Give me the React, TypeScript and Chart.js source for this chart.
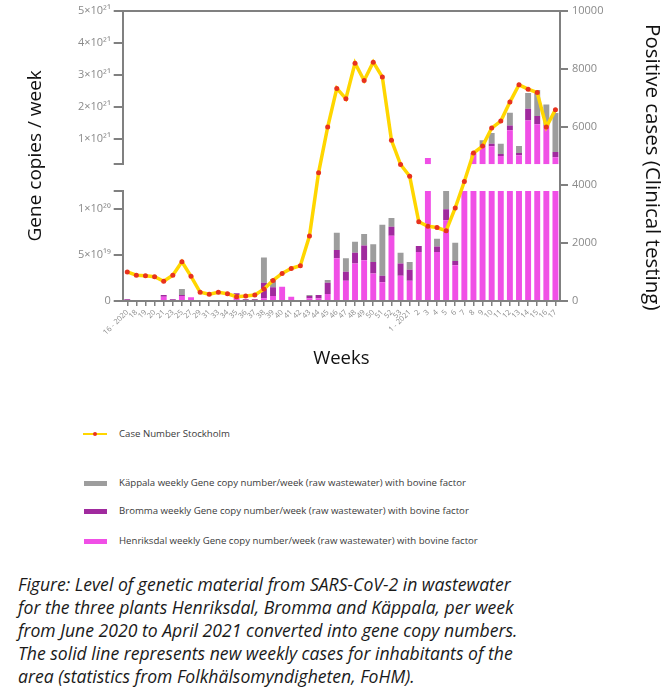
import React, { useEffect, useRef } from 'react';
import { Chart, registerables } from 'chart.js';

Chart.register(...registerables);

// Week labels (calendar weeks, June 2020 – April 2021)
const WEEKS = ['16 - 2020', '18', '19', '20', '21', '23', '25', '27', '29', '31', '33', '34', '35', '36', '37', '38', '39', '40', '41', '42', '43', '44', '45', '46', '47', '48', '49', '50', '51', '52', '53', '1 - 2021', '2', '3', '4', '5', '6', '7', '8', '9', '10', '11', '12', '13', '14', '15', '16', '17'];

// Gene copies per week, in units of 1e19
const HENRIKSDAL = [0, 0, 0, 0, 0.45, 0, 0.55, 0.4, 0, 0, 0, 0, 0.55, 0, 0, 0.3, 0.55, 1.55, 0.45, 0, 0.3, 0.3, 0.75, 4.65, 2.2, 4.1, 4.45, 3.0, 2.05, 7.1, 2.75, 2.2, 5.35, 40, 5.35, 8.8, 3.9, 15, 55, 75, 76, 46, 126, 48, 157, 145, 140, 42];
const BROMMA = [0.2, 0, 0, 0, 0.2, 0.2, 0.1, 0, 0, 0, 0, 0, 0.3, 0.2, 0.2, 1.7, 0.95, 0, 0, 0, 0.25, 0.35, 1.25, 0.9, 1.0, 1.15, 1.6, 1.25, 0.7, 1.0, 1.35, 1.2, 0.65, 0, 0.6, 1.2, 0.45, 0, 0, 3, 8.5, 6, 15.5, 7, 36.5, 26, 3, 16.5];
const KAPPALA = [0, 0, 0, 0, 0, 0, 0.65, 0, 0, 0, 0, 0, 0, 0, 0, 2.75, 0.9, 0, 0, 0, 0.1, 0, 0.3, 1.9, 1.45, 1.2, 1.25, 1.95, 5.55, 0.95, 1.15, 0.85, 0, 0, 0.85, 4, 2.0, 0, 0, 17, 33, 32.5, 39.5, 22, 49.5, 81, 64, 121.5];

// Weekly positive cases, Stockholm
const CASES = [1000, 890, 870, 835, 680, 890, 1350, 850, 300, 230, 300, 250, 150, 170, 205, 410, 710, 950, 1120, 1215, 2235, 4420, 5990, 7320, 6965, 8190, 7595, 8225, 7710, 5535, 4700, 4295, 2725, 2575, 2530, 2415, 3205, 4115, 5095, 5335, 5955, 6195, 6850, 7445, 7295, 7180, 5990, 6590];

// Broken axis ranges (units of 1e19)
const LOW_MAX = 12;
const HIGH_MIN = 20;
const HIGH_MAX = 500;
const LOW_TICK_LABELS: Record<number, string> = { 0: '0', 5: '5×10¹⁹', 10: '1×10²⁰' };
const HIGH_TICK_LABELS: Record<number, string> = { 100: '1×10²¹', 200: '2×10²¹', 300: '3×10²¹', 400: '4×10²¹', 500: '5×10²¹' };

const SERIES = [HENRIKSDAL, BROMMA, KAPPALA];
const COLORS = ['#F04FE6', '#A02A9E', '#9D9D9D'];
const NAMES = ['Henriksdal', 'Bromma', 'Käppala'];

function cumStart(k: number, i: number) {
  let s = 0;
  for (let j = 0; j < k; j++) s += SERIES[j][i];
  return s;
}
function lowerBars(k: number) {
  return WEEKS.map((_, i) => {
    const s0 = cumStart(k, i);
    const s = Math.min(s0, LOW_MAX);
    const e = Math.min(s0 + SERIES[k][i], LOW_MAX);
    return e > s ? [s, e] : null;
  });
}
function upperBars(k: number) {
  return WEEKS.map((_, i) => {
    const s0 = cumStart(k, i);
    const s = Math.max(s0, HIGH_MIN);
    const e = Math.max(s0 + SERIES[k][i], HIGH_MIN);
    return e > s ? [s, e] : null;
  });
}

const AXIS = '#808080';
const TICK_TXT = '#8a8a8a';
const FONT = "'Open Sans', 'Noto Sans', sans-serif";

export default function App() {
  const ref = useRef<HTMLCanvasElement>(null);

  useEffect(() => {
    const barDs: any[] = [];
    [0, 1, 2].forEach((k) => {
      barDs.push({ type: 'bar', label: NAMES[k] + ' low', data: lowerBars(k), backgroundColor: COLORS[k], yAxisID: 'yL', grouped: false, barPercentage: 0.65, categoryPercentage: 1, order: 2 });
      barDs.push({ type: 'bar', label: NAMES[k] + ' high', data: upperBars(k), backgroundColor: COLORS[k], yAxisID: 'yU', grouped: false, barPercentage: 0.65, categoryPercentage: 1, order: 2 });
    });
    const chart = new Chart(ref.current as HTMLCanvasElement, {
      type: 'bar',
      data: {
        labels: WEEKS,
        datasets: [
          { type: 'line', label: 'Case Number Stockholm', data: CASES, yAxisID: 'yR', borderColor: '#FFD600', borderWidth: 3.5, pointRadius: 2.5, pointBackgroundColor: '#E8321E', pointBorderWidth: 0, tension: 0, order: 0 } as any,
          ...barDs,
        ],
      },
      options: {
        responsive: false,
        animation: false,
        layout: { padding: { left: 20, right: 2, top: 10, bottom: 0 } },
        plugins: { legend: { display: false }, tooltip: { enabled: false } },
        scales: {
          x: {
            offset: true,
            grid: { display: true, drawOnChartArea: false, offset: false, tickLength: 5, color: AXIS, lineWidth: 1.5 },
            border: { color: AXIS, width: 2 },
            ticks: { autoSkip: false, maxRotation: 45, minRotation: 45, padding: 2, color: TICK_TXT, font: { family: FONT, size: 7.5 } },
            title: { display: true, text: 'Weeks', color: '#111', font: { family: FONT, size: 18.5 }, padding: { top: 0, bottom: 10 } },
            afterFit: (s: any) => { s.height = 79; },
          },
          yTitle: {
            position: 'left', weight: 10, display: true,
            grid: { display: false }, border: { display: false }, ticks: { display: false },
            title: { display: true, text: 'Gene copies / week', color: '#111', font: { family: FONT, size: 19 } },
            afterFit: (s: any) => { s.width = 40; },
          },
          yU: {
            position: 'left', stack: 'left', stackWeight: 154, weight: 3,
            min: HIGH_MIN, max: HIGH_MAX,
            ticks: { stepSize: 100, color: TICK_TXT, padding: 3, font: { family: FONT, size: 11 }, callback: (v: any) => HIGH_TICK_LABELS[v] ?? '' },
            grid: { color: (c: any) => (c.tick && c.tick.value === HIGH_MAX ? AXIS : 'rgba(0,0,0,0)'), tickColor: AXIS, tickLength: 9, lineWidth: 2, tickWidth: 2 },
            border: { color: AXIS, width: 2 },
            afterFit: (s: any) => { s.width = 62.7; },
          },
          yGap: {
            position: 'left', stack: 'left', stackWeight: 26.7, weight: 2, display: true,
            grid: { display: false }, border: { display: false }, ticks: { display: false },
            afterFit: (s: any) => { s.width = 62.7; },
          },
          yL: {
            position: 'left', stack: 'left', stackWeight: 110.3, weight: 1,
            min: 0, max: LOW_MAX,
            ticks: { stepSize: 5, color: TICK_TXT, padding: 3, font: { family: FONT, size: 11 }, callback: (v: any) => LOW_TICK_LABELS[v] ?? '' },
            grid: { drawOnChartArea: false, color: AXIS, tickLength: 9, lineWidth: 2 },
            border: { color: AXIS, width: 2 },
            afterFit: (s: any) => { s.width = 62.7; },
          },
          yR: {
            position: 'right', weight: 0, min: 0, max: 10000,
            ticks: { stepSize: 2000, color: TICK_TXT, padding: 4, font: { family: FONT, size: 11 }, callback: (v: any) => String(v) },
            grid: { drawOnChartArea: false, color: AXIS, tickLength: 8, lineWidth: 2 },
            border: { color: AXIS, width: 2 },
            afterFit: (s: any) => { s.width = 72; },
          },
          yRGap: {
            position: 'right', stack: 'right', stackWeight: 0.079, weight: 1, display: true,
            grid: { display: false }, border: { display: false }, ticks: { display: false },
            afterFit: (s: any) => { s.width = 36; },
          },
          yRTitle: {
            position: 'right', stack: 'right', stackWeight: 0.921, weight: 2, display: true,
            grid: { display: false }, border: { display: false }, ticks: { display: false },
            title: { display: true, text: 'Positive cases (Clinical testing)', color: '#111', font: { family: FONT, size: 20.5 } },
            afterFit: (s: any) => { s.width = 36; },
          },
        } as any,
      },
    });
    return () => chart.destroy();
  }, []);

  const legendText: React.CSSProperties = { position: 'absolute', left: 119, fontFamily: FONT, fontSize: 9.65, lineHeight: '14px', color: '#3a3a3a', whiteSpace: 'nowrap' };
  const swatch = (color: string, cy: number): React.CSSProperties => ({ position: 'absolute', left: 84, top: cy - 2.5, width: 23, height: 5, background: color });

  return (
    <div style={{ position: 'absolute', left: 0, top: 0, width: 670, height: 700, background: '#fff', overflow: 'hidden' }}>
      <canvas ref={ref} width={670} height={380} style={{ position: 'absolute', left: 0, top: 0, width: 670, height: 380 }} />
      <div style={{ position: 'absolute', left: 83, top: 433, width: 24, height: 2, background: '#FFD600' }} />
      <div style={{ position: 'absolute', left: 93, top: 432, width: 4, height: 4, borderRadius: 2, background: '#E8321E' }} />
      <div style={{ ...legendText, top: 434 - 7 }}>Case Number Stockholm</div>
      <div style={swatch(COLORS[2], 483)} />
      <div style={{ ...legendText, top: 483 - 7 }}>Käppala weekly Gene copy number/week (raw wastewater) with bovine factor</div>
      <div style={swatch(COLORS[1], 511)} />
      <div style={{ ...legendText, top: 511 - 7 }}>Bromma weekly Gene copy number/week (raw wastewater) with bovine factor</div>
      <div style={swatch(COLORS[0], 541)} />
      <div style={{ ...legendText, top: 541 - 7 }}>Henriksdal weekly Gene copy number/week (raw wastewater) with bovine factor</div>
      <div style={{ position: 'absolute', left: 18, top: 572.5, fontFamily: FONT, fontStyle: 'italic', fontSize: 17.6, lineHeight: '23px', color: '#1a1a1a', whiteSpace: 'nowrap' }}>
        <div>Figure: Level of genetic material from SARS-CoV-2 in wastewater</div>
        <div>for the three plants Henriksdal, Bromma and Käppala, per week</div>
        <div>from June 2020 to April 2021 converted into gene copy numbers.</div>
        <div>The solid line represents new weekly cases for inhabitants of the</div>
        <div>area (statistics from Folkhälsomyndigheten, FoHM).</div>
      </div>
    </div>
  );
}
